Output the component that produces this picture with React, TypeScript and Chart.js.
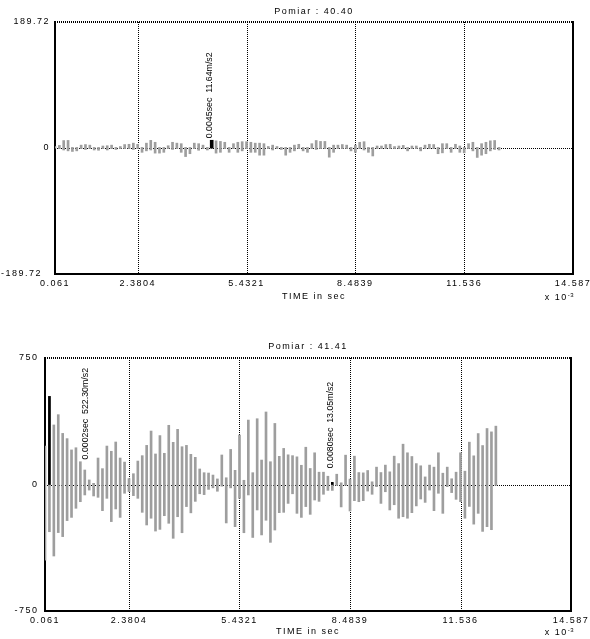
import React, { useEffect, useRef } from "react";
import { Chart, registerables } from "chart.js";

Chart.register(...registerables);

const FONT = "'Liberation Sans', Arial, Helvetica, sans-serif";
const GRAY = "#9e9e9e";

// ---- shared x axis (time, ms) ----
const X_MIN = 0.061;
const X_MAX = 14.587;
const SAMPLE_PERIOD = 0.12207; // ms between samples
const X_TICK_VALUES = [0.061, 2.3804, 5.4321, 8.4839, 11.536, 14.587];
const X_TICK_LABELS = ["0.061", "2.3804", "5.4321", "8.4839", "11.536", "14.587"];
const X_TITLE = "TIME in sec";
const X_NOTE = "x 10";
const X_NOTE_EXP = "-3";

// ---- panel 1 : Pomiar 40.40 ----
const TITLE_1 = "Pomiar : 40.40";
const Y_LIMIT_1 = 189.72;
const Y_TICKS_1 = [-189.72, 0, 189.72];
const Y_TICK_LABELS_1 = ["-189.72  ", "0", "189.72"];
const LOW_1 = [
  -0.4, -0.9, -3.0, -4.3, -5.2, -4.3, -0.9, -2.2, -0.9, -3.0,
  -3.4, -0.9, -3.0, -0.9, -2.2, -0.9, -0.9, -0.9, -2.2, -0.9,
  -6.5, -4.3, -3.0, -7.7, -7.7, -6.5, -0.9, -2.2, -0.9, -6.5,
  -12.9, -8.6, -0.9, -3.4, -0.9, -3.0, -0.5, -7.7, -6.5, -0.9,
  -6.5, -0.9, -6.5, -4.3, -0.9, -6.5, -6.5, -10.8, -10.8, -0.9,
  -3.0, -0.9, -2.2, -10.8, -6.5, -4.3, -0.9, -4.3, -6.5, -0.9,
  -2.2, -0.9, -0.9, -13.8, -6.5, -0.9, -0.9, -0.9, -4.3, -6.5,
  -0.9, -3.0, -6.5, -12.0, -0.9, -0.9, -0.9, -0.9, -0.9, -0.9,
  -0.9, -4.3, -0.9, -0.9, -4.3, -0.9, -0.9, -0.9, -8.6, -7.3,
  -0.9, -6.5, -0.9, -6.5, -7.3, -0.9, -4.3, -14.2, -10.8, -8.6,
  -4.3, -2.2, -3.0,
];
const HIGH_1 = [
  2.2, 3.9, 11.2, 11.4, 0.9, 0.9, 4.3, 5.2, 4.3, 0.9,
  0.9, 3.0, 3.4, 4.3, 0.9, 2.2, 5.2, 5.6, 7.3, 5.6,
  0.9, 7.3, 11.5, 8.6, 0.9, 0.9, 3.4, 8.6, 7.3, 6.5,
  0.9, 0.9, 7.3, 6.5, 4.3, 0.9, 0.5, 10.8, 9.9, 8.6,
  0.9, 6.5, 8.6, 9.5, 9.5, 8.6, 7.3, 7.3, 6.5, 2.2,
  4.3, 2.2, 0.9, 0.9, 0.9, 4.3, 5.6, 0.9, 0.9, 6.5,
  11.3, 9.9, 9.9, 0.9, 4.3, 4.3, 5.2, 4.3, 0.9, 4.3,
  8.6, 9.5, 0.9, 0.9, 3.0, 3.0, 5.2, 5.6, 2.2, 3.0,
  3.9, 0.9, 3.0, 3.0, 0.9, 4.3, 5.6, 5.2, 0.9, 6.5,
  6.5, 0.9, 5.6, 3.0, 0.9, 6.5, 8.6, 0.9, 6.5, 8.6,
  10.8, 11.3, 0.9,
];
const MARK_INDEX_1 = [36];
const MARK_VALUE_1 = [11.64];
const MARK_LABEL_1 = ["0.0045sec  11.64m/s2"];

// ---- panel 2 : Pomiar 41.41 ----
const TITLE_2 = "Pomiar : 41.41";
const Y_LIMIT_2 = 750;
const Y_TICKS_2 = [-750, 0, 750];
const Y_TICK_LABELS_2 = ["-750", "0", "750"];
const LOW_2 = [
  -448, -280, -424, -285, -309, -214, -195, -141, -102, -62,
  -33, -68, -76, -155, -82, -220, -145, -195, -52, -42,
  -66, -82, -165, -240, -200, -276, -266, -185, -230, -319,
  -191, -286, -131, -168, -100, -55, -60, -29, -20, -40,
  -10, -228, -20, -250, -82, -286, -62, -314, -151, -299,
  -212, -343, -270, -167, -165, -112, -55, -171, -195, -131,
  -177, -92, -100, -58, -35, -35, -5, -133, -5, -157,
  -96, -102, -96, -39, -58, -13, -112, -43, -151, -120,
  -200, -191, -200, -167, -127, -86, -106, -33, -155, -52,
  -171, -13, -48, -88, -102, -200, -130, -235, -171, -278,
  -250, -268, -5,
];
const HIGH_2 = [
  228, 522, 353, 414, 303, 272, 205, 218, 135, 86,
  27, 7, 157, 94, 228, 197, 252, 157, 133, 35,
  64, 139, 171, 232, 317, 181, 290, 185, 351, 250,
  327, 224, 232, 179, 161, 92, 70, 68, 56, 33,
  175, 40, 208, 84, 293, 25, 382, 70, 390, 145,
  430, 135, 362, 167, 214, 176, 171, 164, 114, 221,
  95, 188, 73, 73, 49, 5, 61, 10, 174, 32,
  168, 71, 69, 83, 16, 103, 71, 115, 75, 168,
  124, 239, 188, 166, 124, 111, 45, 115, 103, 188,
  67, 103, 34, 73, 188, 79, 251, 170, 302, 231,
  332, 312, 346,
];
const MARK_INDEX_2 = [1, 65];
const MARK_VALUE_2 = [522.3, 13.05];
const MARK_LABEL_2 = ["0.0002sec  522.30m/s2", "0.0080sec  13.05m/s2"];

type PanelData = {
  title: string;
  yLimit: number;
  yTicks: number[];
  yTickLabels: string[];
  low: number[];
  high: number[];
  markIndex: number[];
  markValue: number[];
  markLabel: string[];
};

type PanelLayout = {
  top: number;
  height: number;
  padTop: number;
  padRight: number;
  yAxisWidth: number;
  xAxisHeight: number;
  yTickPad: number;
  xTickPad: number;
  xTitlePadBottom: number;
  titleGap: number;
  noteDy: number;
  noteDx: number;
  markOffsets: number[][];
  markWidth: number;
};

const PANEL_1: PanelData = {
  title: TITLE_1,
  yLimit: Y_LIMIT_1,
  yTicks: Y_TICKS_1,
  yTickLabels: Y_TICK_LABELS_1,
  low: LOW_1,
  high: HIGH_1,
  markIndex: MARK_INDEX_1,
  markValue: MARK_VALUE_1,
  markLabel: MARK_LABEL_1,
};

const PANEL_2: PanelData = {
  title: TITLE_2,
  yLimit: Y_LIMIT_2,
  yTicks: Y_TICKS_2,
  yTickLabels: Y_TICK_LABELS_2,
  low: LOW_2,
  high: HIGH_2,
  markIndex: MARK_INDEX_2,
  markValue: MARK_VALUE_2,
  markLabel: MARK_LABEL_2,
};

const LAYOUT_1: PanelLayout = {
  top: 0,
  height: 315,
  padTop: 22,
  padRight: 17,
  yAxisWidth: 55,
  xAxisHeight: 41,
  yTickPad: 5,
  xTickPad: 4,
  xTitlePadBottom: 13,
  titleGap: 10,
  noteDy: 24,
  noteDx: 3,
  markOffsets: [[-2.3, -2]],
  markWidth: 3,
};

const LAYOUT_2: PanelLayout = {
  top: 315,
  height: 324,
  padTop: 43,
  padRight: 19,
  yAxisWidth: 45,
  xAxisHeight: 28,
  yTickPad: 6.5,
  xTickPad: 4,
  xTitlePadBottom: 1.6,
  titleGap: 11.3,
  noteDy: 22,
  noteDx: 5,
  markOffsets: [[36, 63], [-1.5, -14]],
  markWidth: 2,
};

function Panel({ panel, layout }: { panel: PanelData; layout: PanelLayout }) {
  const ref = useRef<HTMLCanvasElement | null>(null);

  useEffect(() => {
    const canvas = ref.current;
    if (!canvas) return;

    const times = panel.low.map((_, i) => X_MIN + i * SAMPLE_PERIOD);
    const grayData = times.map((t, i) => ({ x: t, y: [panel.low[i], panel.high[i]] }));
    const markData = panel.markIndex.map((idx, k) => ({ x: times[idx], y: [0, panel.markValue[k]] }));

    const decor = {
      id: "decor",
      beforeDraw(chart: any) {
        chart.ctx.letterSpacing = "1.5px";
      },
      beforeDatasetsDraw(chart: any) {
        const { ctx, chartArea: a } = chart;
        const xs = chart.scales.x;
        const ys = chart.scales.y;
        ctx.save();
        ctx.strokeStyle = "#000";
        ctx.lineWidth = 1;
        ctx.setLineDash([1, 1]);
        X_TICK_VALUES.slice(1, -1).forEach((v) => {
          const px = Math.round(xs.getPixelForValue(v)) + 0.5;
          ctx.beginPath();
          ctx.moveTo(px, a.top);
          ctx.lineTo(px, a.bottom);
          ctx.stroke();
        });
        const zy = Math.round(ys.getPixelForValue(0)) + 0.5;
        ctx.beginPath();
        ctx.moveTo(a.left, zy);
        ctx.lineTo(a.right, zy);
        ctx.stroke();
        // frame
        ctx.lineWidth = 2;
        ctx.beginPath();
        ctx.moveTo(a.left, a.top);
        ctx.lineTo(a.right, a.top);
        ctx.stroke();
        ctx.setLineDash([]);
        ctx.beginPath();
        ctx.moveTo(a.left, a.top - 1);
        ctx.lineTo(a.left, a.bottom);
        ctx.lineTo(a.right, a.bottom);
        ctx.lineTo(a.right, a.top - 1);
        ctx.stroke();
        ctx.restore();
      },
      afterDraw(chart: any) {
        const { ctx, chartArea: a } = chart;
        const xs = chart.scales.x;
        const ys = chart.scales.y;
        ctx.save();
        ctx.fillStyle = "#000";
        // title
        ctx.letterSpacing = "1.5px";
        ctx.font = `9px ${FONT}`;
        ctx.textAlign = "center";
        ctx.textBaseline = "middle";
        ctx.fillText(panel.title, (a.left + a.right) / 2, a.top - layout.titleGap);
        // x 10^-3 note
        ctx.textAlign = "left";
        const w1 = ctx.measureText(X_NOTE).width;
        ctx.font = `6px ${FONT}`;
        const w2 = ctx.measureText(X_NOTE_EXP).width;
        const sx = a.right + layout.noteDx - w1 - w2;
        const sy = a.bottom + layout.noteDy;
        ctx.font = `9px ${FONT}`;
        ctx.fillText(X_NOTE, sx, sy);
        ctx.font = `6px ${FONT}`;
        ctx.letterSpacing = "0.5px";
        ctx.fillText(X_NOTE_EXP, sx + w1, sy - 3);
        // peak annotations
        ctx.letterSpacing = "0px";
        ctx.font = `8.8px ${FONT}`;
        panel.markIndex.forEach((idx, k) => {
          const px = xs.getPixelForValue(times[idx]);
          const py = ys.getPixelForValue(panel.markValue[k]);
          const off = layout.markOffsets[k];
          ctx.save();
          ctx.translate(px + off[0], py + off[1]);
          ctx.rotate(-Math.PI / 2);
          ctx.textAlign = "left";
          ctx.textBaseline = "middle";
          ctx.fillText(panel.markLabel[k], 0, 0);
          ctx.restore();
        });
        ctx.restore();
      },
    };

    const chart = new Chart(canvas, {
      type: "bar",
      data: {
        datasets: [
          {
            data: markData as any,
            backgroundColor: "#000",
            borderWidth: 0,
            barThickness: layout.markWidth,
            grouped: false,
            order: 0,
          } as any,
          {
            data: grayData as any,
            backgroundColor: GRAY,
            borderWidth: 0,
            barThickness: 2,
            grouped: false,
            order: 1,
          } as any,
        ],
      },
      options: {
        responsive: false,
        maintainAspectRatio: false,
        animation: false,
        devicePixelRatio: 1,
        events: [],
        layout: { padding: { top: layout.padTop, right: layout.padRight, left: 0, bottom: 0 } },
        plugins: {
          legend: { display: false },
          tooltip: { enabled: false },
          title: { display: false },
        },
        scales: {
          x: {
            type: "linear",
            min: X_MIN,
            max: X_MAX,
            offset: false,
            bounds: "data",
            grid: { display: false, drawTicks: false, offset: false },
            border: { display: false },
            ticks: {
              autoSkip: false,
              maxRotation: 0,
              minRotation: 0,
              padding: layout.xTickPad,
              color: "#000",
              font: { family: FONT, size: 9 },
              callback: (_v: any, i: number) => X_TICK_LABELS[i] ?? "",
            },
            afterBuildTicks: (s: any) => {
              s.ticks = X_TICK_VALUES.map((v) => ({ value: v }));
            },
            afterFit: (s: any) => {
              s.height = layout.xAxisHeight;
              s.paddingLeft = 0;
              s.paddingRight = 0;
            },
            title: {
              display: true,
              text: X_TITLE,
              color: "#000",
              font: { family: FONT, size: 9 },
              padding: { top: 0, bottom: layout.xTitlePadBottom },
            },
          } as any,
          y: {
            type: "linear",
            min: -panel.yLimit,
            max: panel.yLimit,
            bounds: "data",
            grid: { display: false, drawTicks: false },
            border: { display: false },
            ticks: {
              autoSkip: false,
              padding: layout.yTickPad,
              color: "#000",
              font: { family: FONT, size: 9 },
              callback: (_v: any, i: number) => panel.yTickLabels[i] ?? "",
            },
            afterBuildTicks: (s: any) => {
              s.ticks = panel.yTicks.map((v) => ({ value: v }));
            },
            afterFit: (s: any) => {
              s.width = layout.yAxisWidth;
              s.paddingTop = 0;
              s.paddingBottom = 0;
            },
          } as any,
        },
      },
      plugins: [decor as any],
    });

    return () => chart.destroy();
  }, [panel, layout]);

  return (
    <canvas
      ref={ref}
      width={590}
      height={layout.height}
      style={{
        position: "absolute",
        left: 0,
        top: layout.top,
        width: 590,
        height: layout.height,
        display: "block",
      }}
    />
  );
}

export default function App() {
  return (
    <div style={{ position: "absolute", left: 0, top: 0, width: 590, height: 639, background: "#fff" }}>
      <Panel panel={PANEL_1} layout={LAYOUT_1} />
      <Panel panel={PANEL_2} layout={LAYOUT_2} />
    </div>
  );
}
